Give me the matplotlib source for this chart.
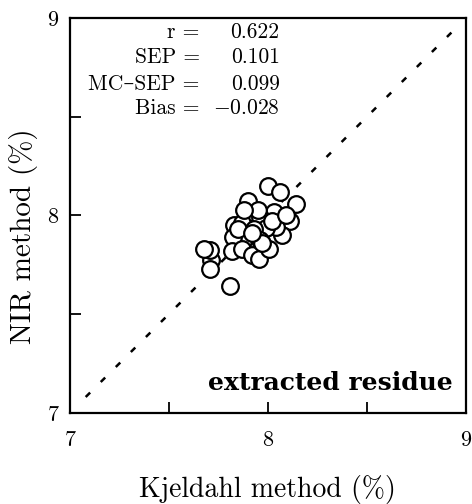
import matplotlib
matplotlib.use("Agg")
import matplotlib.pyplot as plt

plt.rcParams['font.family'] = ['cmr10', 'DejaVu Serif']
plt.rcParams['mathtext.fontset'] = 'cm'
plt.rcParams['axes.unicode_minus'] = False

kjeldahl = [8.00, 8.06, 8.14, 7.90, 8.03, 8.11, 7.90, 7.96, 7.83, 7.87, 8.07, 8.04,
            7.99, 7.93, 7.875, 7.825, 7.82, 7.87, 7.92, 7.955, 8.005, 7.96, 8.02,
            7.715, 7.71, 7.68, 7.71, 7.81, 7.85, 7.95, 8.09, 7.88, 7.97, 7.92]
nir = [8.15, 8.12, 8.06, 8.075, 8.02, 7.97, 8.01, 7.99, 7.95, 7.96, 7.90, 7.94,
       7.935, 7.93, 7.87, 7.89, 7.82, 7.83, 7.80, 7.78, 7.83, 7.875, 7.97,
       7.775, 7.825, 7.83, 7.73, 7.64, 7.93, 8.03, 8.00, 8.03, 7.86, 7.91]

stat_names = ["r =", "SEP =", "MC\u2013SEP =", "Bias ="]
stat_values = ["0.622", "0.101", "0.099", r"$-$0.028"]
ticks = [7, 8, 9]
minor_ticks = [7.5, 8.5]
line_range = [7.08, 8.95]

fig = plt.figure(figsize=(4.72, 5.04), dpi=100)
ax = fig.add_axes([0.148, 0.181, 0.839, 0.783])

ax.plot(line_range, line_range, color='black', lw=1.8, linestyle=(0, (2.5, 6)))
ax.plot(kjeldahl, nir, 'o', ms=12, mfc='white', mec='black', mew=1.6, linestyle='none')

ax.set_xlim(7, 9)
ax.set_ylim(7, 9)
ax.set_xticks(ticks)
ax.set_yticks(ticks)
ax.set_xticks(minor_ticks, minor=True)
ax.set_yticks(minor_ticks, minor=True)
ax.set_xticklabels([str(t) for t in ticks])
ax.set_yticklabels([str(t) for t in ticks])
ax.tick_params(which='both', direction='in', length=8, width=1.3, labelsize=16)
ax.tick_params(axis='x', pad=13)
ax.tick_params(axis='y', pad=8)
for s in ax.spines.values():
    s.set_linewidth(1.6)

ax.set_xlabel("Kjeldahl method (%)", fontsize=20, labelpad=18)
ax.set_ylabel("NIR method (%)", fontsize=21)
ax.yaxis.set_label_coords(-0.08, 0.448)

ys = [0.965, 0.901, 0.833, 0.772]
for name, val, y in zip(stat_names, stat_values, ys):
    ax.text(0.328, y, name, transform=ax.transAxes, ha='right', va='center', fontsize=15.5)
    ax.text(0.53, y, val, transform=ax.transAxes, ha='right', va='center', fontsize=15.5)

ax.text(0.967, 0.058, "extracted residue", transform=ax.transAxes, ha='right',
        va='baseline', fontsize=18, family='DejaVu Serif', fontweight='bold')

fig.savefig("out.png", dpi=100)
